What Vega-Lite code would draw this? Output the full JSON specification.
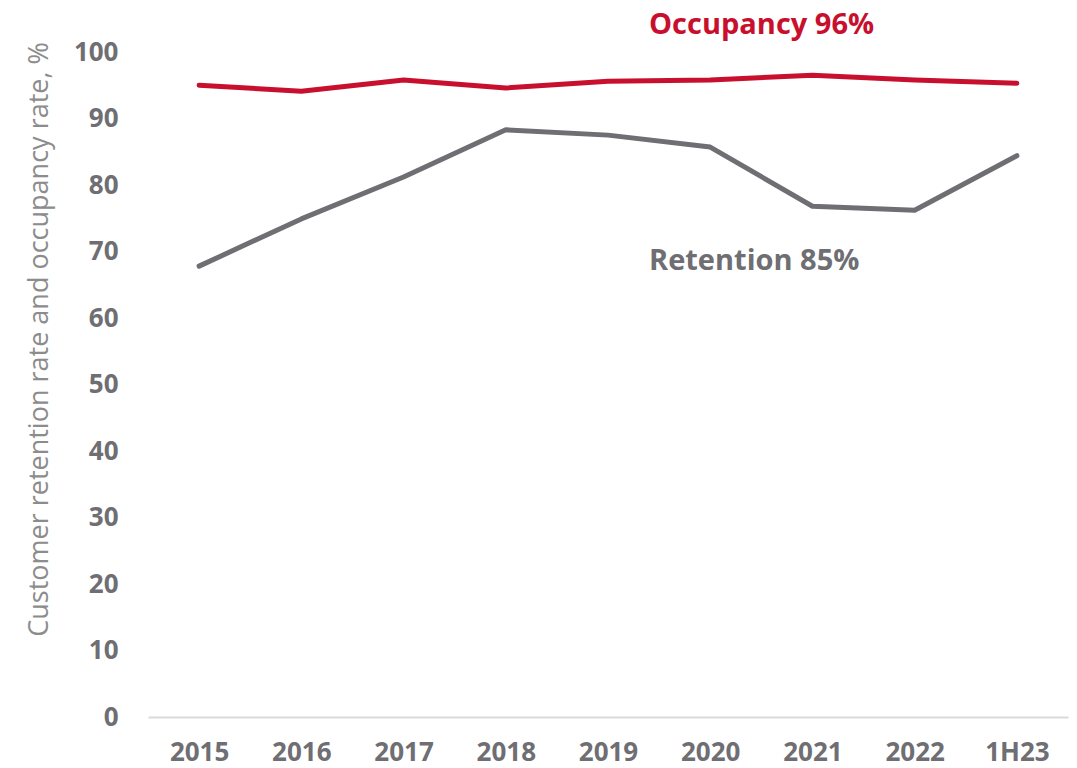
{
  "$schema": "https://vega.github.io/schema/vega-lite/v6.json",
  "width": 920,
  "height": 665,
  "autosize": {"type": "none"},
  "padding": {"left": 148, "top": 52, "right": 9, "bottom": 51},
  "background": "white",
  "config": {"view": {"stroke": null}, "font": "Open Sans"},
  "datasets": {
    "series": [
      {"year": "2015", "series": "Occupancy", "value": 95.0},
      {"year": "2016", "series": "Occupancy", "value": 94.1},
      {"year": "2017", "series": "Occupancy", "value": 95.8},
      {"year": "2018", "series": "Occupancy", "value": 94.6},
      {"year": "2019", "series": "Occupancy", "value": 95.6},
      {"year": "2020", "series": "Occupancy", "value": 95.8},
      {"year": "2021", "series": "Occupancy", "value": 96.5},
      {"year": "2022", "series": "Occupancy", "value": 95.8},
      {"year": "1H23", "series": "Occupancy", "value": 95.3},
      {"year": "2015", "series": "Retention", "value": 67.8},
      {"year": "2016", "series": "Retention", "value": 74.9},
      {"year": "2017", "series": "Retention", "value": 81.2},
      {"year": "2018", "series": "Retention", "value": 88.3},
      {"year": "2019", "series": "Retention", "value": 87.5},
      {"year": "2020", "series": "Retention", "value": 85.7},
      {"year": "2021", "series": "Retention", "value": 76.8},
      {"year": "2022", "series": "Retention", "value": 76.2},
      {"year": "1H23", "series": "Retention", "value": 84.4}
    ],
    "labels": [
      {"year": "2019", "series": "Occupancy", "value": 104.0, "label": "Occupancy 96%"},
      {"year": "2019", "series": "Retention", "value": 68.6, "label": "Retention 85%"}
    ]
  },
  "layer": [
    {
      "data": {"name": "series"},
      "mark": {"type": "line", "strokeWidth": 5, "strokeCap": "round", "strokeJoin": "round"},
      "encoding": {
        "x": {
          "field": "year", "type": "ordinal",
          "sort": ["2015","2016","2017","2018","2019","2020","2021","2022","1H23"],
          "scale": {"type": "point", "padding": 0.5},
          "axis": {
            "title": null, "labelAngle": 0, "ticks": false, "domainColor": "#d9d9d9", "domainWidth": 2,
            "labelFont": "Open Sans", "labelFontSize": 26, "labelFontWeight": "bold", "labelColor": "#6e6e73", "labelPadding": 22
          }
        },
        "y": {
          "field": "value", "type": "quantitative",
          "scale": {"domain": [0, 100], "nice": false},
          "axis": {
            "values": [0,10,20,30,40,50,60,70,80,90,100],
            "grid": false, "domain": false, "ticks": false,
            "labelFont": "Open Sans", "labelFontSize": 26, "labelFontWeight": "bold", "labelColor": "#6e6e73", "labelPadding": 30,
            "title": "Customer retention rate and occupancy rate, %",
            "titleFont": "Open Sans", "titleFontSize": 27, "titleFontWeight": "normal", "titleColor": "#8c8c8c", "titlePadding": 20,
            "titleY": 287
          }
        },
        "color": {
          "field": "series", "type": "nominal",
          "scale": {"domain": ["Occupancy", "Retention"], "range": ["#c8102e", "#6e6e73"]},
          "legend": null
        }
      }
    },
    {
      "data": {"name": "labels"},
      "mark": {"type": "text", "align": "left", "baseline": "middle", "dx": 41, "fontSize": 29, "fontWeight": "bold", "font": "Open Sans"},
      "encoding": {
        "x": {"field": "year", "type": "ordinal", "sort": ["2015","2016","2017","2018","2019","2020","2021","2022","1H23"]},
        "y": {"field": "value", "type": "quantitative"},
        "text": {"field": "label"},
        "color": {"field": "series", "type": "nominal", "legend": null}
      }
    }
  ]
}
